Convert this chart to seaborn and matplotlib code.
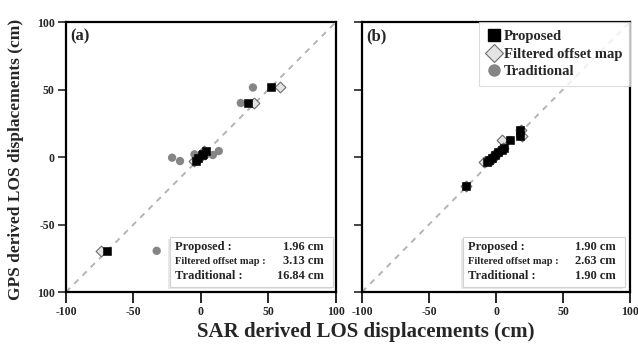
import matplotlib
matplotlib.use("Agg")
import matplotlib.pyplot as plt
import seaborn as sns
import pandas as pd
from matplotlib.patches import Rectangle
from matplotlib.lines import Line2D

# ---- data (cm): GPS-derived vs SAR-derived LOS displacement ----
gps_a = [51.5, 40.0, 4.4, 2.0, 1.5, -0.5, -3.0, -69.5]
proposed_a = [52.0, 34.5, 3.5, 1.5, 0.5, -2.5, -3.5, -69.8]
filtered_a = [58.5, 39.5, 2.5, 3.0, 1.0, -1.5, -4.8, -74.2]
traditional_a = [38.5, 29.5, 13.2, -4.8, 8.8, -21.4, -15.5, -32.8]

gps_b = [20.0, 15.6, 12.6, 6.7, 5.2, 3.7, 1.5, -0.7, -2.2, -3.7, -21.5]
proposed_b = [17.9, 17.9, 10.4, 6.0, 4.5, 1.5, -0.7, -3.0, -5.2, -6.5, -22.4]
filtered_b = [18.5, 19.5, 4.3, 5.0, 3.0, 2.5, -1.5, -2.0, -4.0, -9.0, -22.4]
traditional_b = [17.9, 17.9, 10.4, 6.0, 4.5, 1.5, -0.7, -3.0, -5.2, -6.5, -22.4]

methods = ["Proposed", "Filtered offset map", "Traditional"]
rmse_a = ["1.96 cm", "3.13 cm", "16.84 cm"]
rmse_b = ["1.90 cm", "2.63 cm", "1.90 cm"]
panel_labels = ["(a)", "(b)"]
ticks = [-100, -50, 0, 50, 100]
y_tick_labels = ["100", "-50", "0", "50", "100"]

sns.set_theme(style="white")
plt.rcParams["font.family"] = ["Liberation Serif", "DejaVu Serif"]
plt.rcParams["font.weight"] = "bold"
plt.rcParams["axes.unicode_minus"] = False


def long_table(gps, prop, filt, trad):
    rows = []
    for name, vals in zip(methods, [prop, filt, trad]):
        for g, s in zip(gps, vals):
            rows.append({"sar": s, "gps": g, "method": name})
    return pd.DataFrame(rows)


df_a = long_table(gps_a, proposed_a, filtered_a, traditional_a)
df_b = long_table(gps_b, proposed_b, filtered_b, traditional_b)

styles = {
    "Traditional": dict(marker="o", color="#858585", edgecolor="none", s=36, zorder=3),
    "Filtered offset map": dict(marker="D", color="#e4e4e4", edgecolor="#6e6e6e",
                                s=30, linewidth=0.8, zorder=4),
    "Proposed": dict(marker="s", color="black", edgecolor="black", s=26, zorder=5),
}

fig = plt.figure(figsize=(6.38, 3.45), dpi=100)
ax_a = fig.add_axes([0.1034, 0.1536, 0.4232, 0.7826])
ax_b = fig.add_axes([0.5674, 0.1536, 0.4201, 0.7826])


def draw_panel(ax, df, label, rmse, box_x0, box_x1, show_ylabels):
    ax.plot([-100, 100], [-100, 100], color="#b4b4b4", lw=1.4,
            dashes=(3, 3), zorder=2)
    for name in ["Traditional", "Filtered offset map", "Proposed"]:
        sns.scatterplot(data=df[df["method"] == name], x="sar", y="gps",
                        ax=ax, legend=False, **styles[name])
    ax.set_xlim(-100, 100)
    ax.set_ylim(-100, 100)
    ax.set_xlabel("")
    ax.set_ylabel("")
    ax.set_xticks(ticks)
    ax.set_xticklabels([str(t) for t in ticks])
    ax.set_yticks(ticks)
    if show_ylabels:
        ax.set_yticklabels(y_tick_labels)
    else:
        ax.set_yticklabels([])
    ax.tick_params(axis="x", direction="out", length=8, width=1.4,
                   labelsize=8.5, pad=2, bottom=True)
    ax.tick_params(axis="y", direction="out", length=6, width=1.2,
                   labelsize=8.5, pad=2, left=True)
    for sp in ax.spines.values():
        sp.set_color("black")
        sp.set_linewidth(1.6)
    ax.text(0.015, 0.975, label, transform=ax.transAxes, ha="left", va="top",
            fontsize=12, fontweight="bold")

    # RMSE summary box
    y0, y1 = 0.018, 0.204
    ax.add_patch(Rectangle((box_x0 - 0.006, y0 - 0.006), box_x1 - box_x0, y1 - y0,
                           transform=ax.transAxes, facecolor="#e8e8e8",
                           edgecolor="none", zorder=6))
    ax.add_patch(Rectangle((box_x0, y0), box_x1 - box_x0, y1 - y0,
                           transform=ax.transAxes, facecolor="white",
                           edgecolor="#d2d2d2", lw=0.8, zorder=7))
    names = ["Proposed :", "Filtered offset map :", "Traditional :"]
    sizes = [9, 7.6, 9]
    for i, (nm, val, fs) in enumerate(zip(names, rmse, sizes)):
        yy = 0.167 - i * 0.054
        ax.text(box_x0 + 0.02, yy, nm, transform=ax.transAxes, ha="left",
                va="center", fontsize=fs, fontweight="bold", zorder=8)
        ax.text(box_x1 - 0.035, yy, val, transform=ax.transAxes, ha="right",
                va="center", fontsize=9, fontweight="bold", zorder=8)


draw_panel(ax_a, df_a, panel_labels[0], rmse_a, 0.385, 0.989, True)
draw_panel(ax_b, df_b, panel_labels[1], rmse_b, 0.377, 0.981, False)

handles = [
    Line2D([], [], linestyle="none", marker="s", markersize=9,
           markerfacecolor="black", markeredgecolor="black"),
    Line2D([], [], linestyle="none", marker="D", markersize=9,
           markerfacecolor="#e4e4e4", markeredgecolor="#6e6e6e", markeredgewidth=0.8),
    Line2D([], [], linestyle="none", marker="o", markersize=9,
           markerfacecolor="#858585", markeredgecolor="none"),
]
leg = ax_b.legend(handles, methods, loc="upper right", frameon=True,
                  fancybox=False, edgecolor="#d2d2d2",
                  handlelength=0.9, handletextpad=0.2, borderpad=0.55,
                  labelspacing=0.3, borderaxespad=0.0,
                  prop={"weight": "bold", "size": 10.5})
leg.get_frame().set_linewidth(0.8)

fig.text(0.574, 0.038, "SAR derived LOS displacements (cm)", ha="center",
         va="center", fontsize=15, fontweight="bold")
fig.text(0.025, 0.539, "GPS derived LOS displacements (cm)", ha="center",
         va="center", rotation=90, fontsize=12.5, fontweight="bold")

fig.savefig("out.png", dpi=100)
